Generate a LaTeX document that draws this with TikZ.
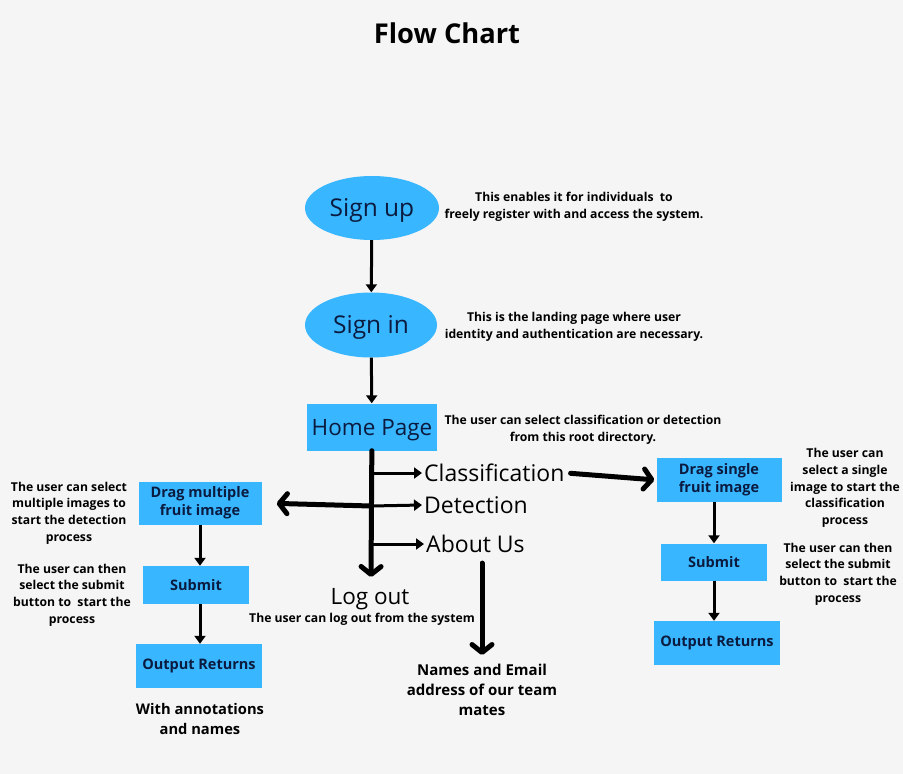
\documentclass[tikz,border=0pt]{standalone}
\usepackage{fontspec}
\setmainfont{Open Sans}
\usetikzlibrary{arrows.meta,shapes.geometric}
\definecolor{paper}{HTML}{F5F5F5}
\definecolor{skyblue}{HTML}{38B6FF}
\definecolor{ink}{HTML}{0B1B3F}

\begin{document}
\begin{tikzpicture}[x=1pt,y=-1pt,
    oval/.style={ellipse,fill=skyblue,text=ink,inner sep=0pt,text depth=0pt,minimum width=134pt,minimum height=64pt,font=\fontsize{24.5}{28}\selectfont},
    box/.style={fill=skyblue,text=ink,inner sep=0pt,align=center,font=\bfseries\fontsize{14.5}{18}\selectfont},
    menu/.style={anchor=west,inner sep=2pt,font=\fontsize{23}{26}\selectfont},
    note/.style={align=center,inner sep=0pt,font=\bfseries\fontsize{12.2}{16.6}\selectfont},
    flow/.style={line width=3pt,-{Triangle[length=8pt,width=11pt]}},
    bigflow/.style={line width=5pt,line cap=round,-{Straight Barb[round,length=8pt,width=20pt]}}]
  \fill[paper] (0,0) rectangle (903,774);

  \node (title) at (447,33) {\bfseries\fontsize{27.3}{30}\selectfont Flow Chart};

  % sign up / sign in / home
  \node[oval] (signup) at (372,208) {Sign up};
  \node[note] (signupnote) at (574,207) {This enables it for individuals\ \ to\\freely register with and access the system.};
  \node[oval,minimum width=132pt,minimum height=65pt] (signin) at (371,325) {Sign in};
  \node[note] (signinnote) at (574,327) {This is the landing page where user\\identity and authentication are necessary.};
  \node[box,text depth=0pt,minimum width=130pt,minimum height=47pt,font=\fontsize{22.5}{26}\selectfont] (home) at (372,427) {Home Page};
  \node[note] (homenote) at (583,430) {The user can select classification or detection\\from this root directory.};

  \draw[flow] (signup) -- (signin);
  \draw[flow] (signin) -- (home);

  % menu
  \coordinate (logend) at (371,577);
  \coordinate (b1) at (371,473);
  \coordinate (b2) at (371,506);
  \coordinate (b3) at (371,544);
  \node[menu] (cls) at (422,473) {Classification};
  \node[menu] (det) at (422,505) {Detection};
  \node[menu] (about) at (424,544) {About Us};
  \node[font=\fontsize{22.5}{26}\selectfont] (logout) at (370,599) {Log out};
  \node[note] (logoutnote) at (362,619) {The user can log out from the system};

  \draw[bigflow] (home) -- (logend);
  \draw[flow] (b1) -- (cls.west);
  \draw[flow] (b2) -- (det.west);
  \draw[flow] (b3) -- (about.west);

  % detection side
  \node[box,minimum width=123pt,minimum height=43pt] (dragm) at (200,503) {Drag multiple\\fruit image};
  \node[box,minimum width=106pt,minimum height=38pt] (subm) at (196,585) {Submit};
  \node[box,minimum width=126pt,minimum height=44pt] (outm) at (199,666) {Output Returns};
  \node[note,font=\bfseries\fontsize{14.7}{20}\selectfont] (withnote) at (200,719) {With annotations\\and names};
  \node[note] (leftnote1) at (69,513) {The user can select\\multiple images to\\start the detection\\process};
  \node[note] (leftnote2) at (72,595) {The user can then\\select the submit\\button to\ \ start the\\process};

  \draw[bigflow,shorten >=15pt] (b2) -- (dragm.east);
  \draw[flow] (dragm.south) -- (dragm.south |- subm.north);
  \draw[flow] (dragm.south |- subm.south) -- (dragm.south |- outm.north);

  % classification side
  \node[box,minimum width=125pt,minimum height=44pt] (drags) at (719,480) {Drag single\\fruit image};
  \node[box,minimum width=106pt,minimum height=37pt] (subs) at (714,562) {Submit};
  \node[box,minimum width=126pt,minimum height=44pt] (outs) at (717,643) {Output Returns};
  \node[note] (rightnote1) at (845,488) {The user can\\select a single\\image to start the\\classification\\process};
  \node[note] (rightnote2) at (838,574) {The user can then\\select the submit\\button to\ \ start the\\process};

  \draw[bigflow,shorten <=4pt,shorten >=2pt] (cls.east) -- (drags.west);
  \draw[flow] (drags.south -| subs) -- (subs.north);
  \draw[flow] (subs.south) -- (outs.north -| subs);

  % about us
  \node[note,font=\bfseries\fontsize{15}{20}\selectfont] (team) at (482,690) {Names and Email\\address of our team\\mates};
  \draw[bigflow,shorten <=8pt,shorten >=9pt] (about.south -| team.north) -- (team.north);
\end{tikzpicture}
\end{document}
